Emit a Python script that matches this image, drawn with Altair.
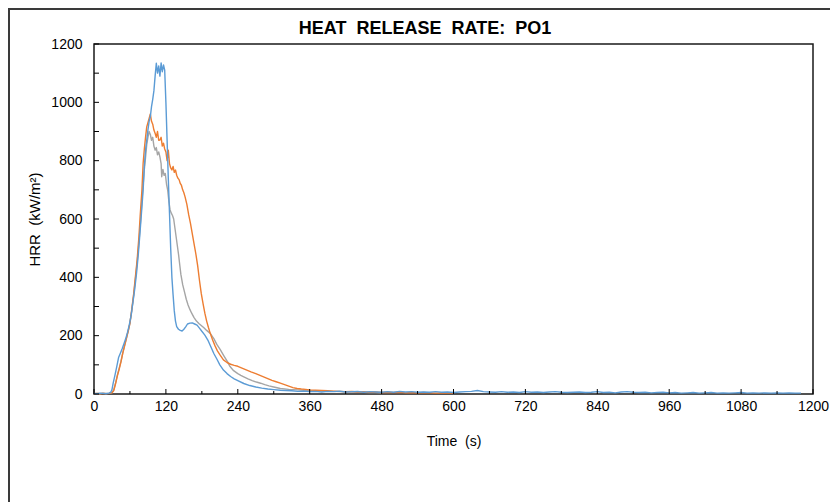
import altair as alt
import pandas as pd

# ---------------- data ----------------
series_names = ["Grey", "Orange", "Blue"]
series_colors = ["#A5A5A5", "#ED7D31", "#5B9BD5"]

blue_t = [0, 5, 10, 15, 20, 25, 28, 30, 32, 35,
          38, 41, 44, 47, 50, 53, 56, 59, 62, 65,
          68, 71, 74, 77, 80, 82, 84, 86, 88, 90,
          92, 94, 96, 98, 100, 102, 104, 106, 108, 110,
          112, 114, 116, 118, 120, 122, 124, 126, 128, 130,
          132, 134, 136, 138, 141, 144, 147, 150, 153, 156,
          160, 164, 168, 172, 176, 180, 185, 190, 195, 200,
          205, 210, 216, 222, 228, 234, 240, 250, 260, 270,
          280, 290, 300, 311, 320,
          330, 340, 350, 360, 370, 380, 390, 400, 410, 420,
          430, 440, 450, 460, 470, 480, 490, 500, 510, 520,
          530, 540, 550, 560, 570, 580, 590, 600, 610, 620,
          630, 640, 650, 660, 670, 680, 690, 700, 710, 720,
          730, 740, 750, 760, 770, 780, 790, 800, 810, 820,
          830, 840, 850, 860, 870, 880, 890, 900, 910, 920,
          930, 940, 950, 960, 970, 980, 990, 1000, 1010, 1020,
          1030, 1040, 1050, 1060, 1070, 1080, 1090, 1100, 1110, 1120,
          1130, 1140, 1150, 1160, 1170, 1180]
blue_v = [2, 1, 3, 2, 1, 3, 6, 15, 37, 65,
          94, 125, 140, 155, 172, 190, 212, 238, 270, 315,
          360, 414, 480, 560, 642, 700, 780, 836, 870, 905,
          935, 951, 985, 1010, 1040, 1090, 1134, 1100, 1125, 1090,
          1135, 1105, 1128, 1110, 1000, 871, 740, 620, 500, 400,
          340, 285, 250, 231, 222, 218, 216, 222, 230, 240,
          243, 244, 240, 236, 226, 215, 202, 185, 162, 139,
          120, 100, 82, 70, 60, 52, 46, 36, 29, 24,
          20, 17, 15, 13, 12,
          11, 9, 10, 8, 9, 7, 9, 8, 10, 7,
          8, 9, 6, 8, 7, 6, 8, 6, 9, 7,
          8, 6, 7, 6, 8, 6, 7, 5, 7, 8,
          9, 12, 8, 7, 6, 8, 6, 7, 5, 8,
          6, 7, 5, 7, 8, 6, 5, 6, 7, 5,
          6, 8, 5, 6, 4, 7, 8, 6, 5, 6,
          4, 5, 6, 4, 5, 3, 4, 5, 3, 4,
          5, 3, 4, 3, 4, 5, 3, 4, 3, 4,
          3, 4, 3, 4, 3, 3]

orange_t = [0, 5, 10, 15, 20, 25, 30, 33, 36, 39,
            42, 45, 48, 51, 54, 57, 60, 63, 66, 69,
            72, 75, 77, 80, 82, 84, 86, 88, 90, 92,
            94, 96, 98, 100, 102, 104, 106, 108, 110, 112,
            114, 116, 118, 120, 122, 124, 126, 128, 130, 132,
            134, 136, 138, 140, 142, 144, 146, 148, 150, 152,
            155, 158, 161, 164, 167, 170, 173, 176, 179, 182,
            185, 188, 191, 194, 198, 202, 206, 210, 216, 222,
            228, 234, 240, 248, 255, 262, 270, 277, 283, 290,
            297, 304, 311, 318, 325, 332, 339, 346, 353, 360,
            370, 380, 390, 400, 410, 420, 430, 440, 450, 460,
            470, 480, 490, 500, 510, 520, 530, 540, 550, 560,
            570, 580, 590, 600]
orange_v = [1, 2, 1, 2, 1, 2, 4, 12, 35, 62,
            85, 110, 140, 165, 190, 215, 243, 290, 340, 400,
            460, 540, 608, 700, 791, 840, 880, 916, 930, 945,
            960, 935, 925, 905, 894, 880, 900, 870, 871, 880,
            850, 860, 840, 830, 800, 836, 790, 775, 768, 780,
            760, 768, 750, 740, 735, 722, 715, 700, 690, 676,
            650, 615, 585, 550, 515, 480, 440, 390, 345, 310,
            277, 250, 228, 208, 185, 165, 148, 135, 117, 108,
            102, 98, 95, 88, 82, 76, 70, 64, 59, 53,
            47, 42, 37, 32, 27, 22, 19, 17, 16, 14,
            13, 12, 11, 10, 9, 8, 9, 7, 8, 6,
            7, 5, 6, 5, 6, 4, 5, 4, 5, 4,
            3, 4, 3, 3]

grey_t = [0, 5, 10, 15, 20, 25, 30, 33, 36, 39,
          42, 45, 48, 51, 54, 57, 60, 63, 66, 69,
          72, 75, 78, 81, 84, 86, 88, 90, 92, 94,
          96, 98, 100, 102, 104, 106, 108, 110, 112, 113,
          115, 117, 119, 121, 123, 125, 127, 129, 131, 133,
          135, 137, 139, 141, 143, 145, 148, 151, 154, 157,
          160, 163, 167, 171, 175, 179, 183, 188, 194, 200,
          205, 211, 217, 223, 227, 233, 240, 245, 250, 257,
          264, 271, 278, 285, 292, 300, 311, 325, 340, 355,
          370, 380, 390, 400, 410, 420, 430, 440, 450, 460,
          470, 480]
grey_v = [1, 2, 1, 3, 2, 2, 5, 14, 38, 65,
          88, 112, 140, 165, 190, 215, 243, 285, 335, 392,
          450, 520, 600, 690, 770, 810, 855, 880, 900, 890,
          870, 880, 850, 836, 845, 820, 830, 813, 790, 745,
          770, 750, 756, 720, 699, 660, 631, 620, 612, 600,
          570, 540, 510, 480, 445, 410, 375, 350, 325, 305,
          290, 277, 262, 250, 242, 235, 228, 218, 208, 190,
          170, 151, 130, 110, 94, 80, 70, 64, 59, 52,
          46, 41, 37, 32, 28, 24, 19, 16, 14, 12,
          11, 10, 9, 9, 8, 7, 7, 6, 6, 5,
          5, 4]

x_tick_labels = [0, 120, 240, 360, 480, 600, 720, 840, 960, 1080, 1200]
x_minor_ticks = [60, 180, 300, 420, 540, 660, 780, 900, 1020, 1140]
y_tick_labels = [0, 200, 400, 600, 800, 1000, 1200]
y_minor_ticks = [100, 300, 500, 700, 900, 1100]

title_text = "HEAT\u00a0\u00a0RELEASE\u00a0\u00a0RATE:\u00a0\u00a0PO1"
x_title = "Time\u00a0\u00a0(s)"
y_title = "HRR\u00a0\u00a0(kW/m\u00b2)"

# ---------------- build tables ----------------
frames = []
for name, ts, vs in [("Grey", grey_t, grey_v), ("Orange", orange_t, orange_v), ("Blue", blue_t, blue_v)]:
    frames.append(pd.DataFrame({"t": ts, "v": vs, "series": name}))
df = pd.concat(frames, ignore_index=True)

W, H = 719, 350
x_scale = alt.Scale(domain=[0, 1200], nice=False, zero=False)
y_scale = alt.Scale(domain=[0, 1200], nice=False)
color_scale = alt.Scale(domain=series_names, range=series_colors)

x_axis = alt.Axis(values=x_tick_labels, title=x_title, labelPadding=5, titlePadding=21,
                  labelFlush=False, format="d")
y_axis = alt.Axis(values=y_tick_labels, title=y_title, labelPadding=12, titlePadding=8,
                  titleFontSize=15, format="d")

X = alt.X("t:Q", scale=x_scale, axis=x_axis)
Y = alt.Y("v:Q", scale=y_scale, axis=y_axis)

def series_layer(name):
    return alt.Chart(df).transform_filter(alt.datum.series == name).mark_line(
        strokeWidth=1.4, strokeJoin="round"
    ).encode(
        x=X, y=Y,
        color=alt.Color("series:N", scale=color_scale, legend=None),
    )

lines = [series_layer("Grey"), series_layer("Orange"), series_layer("Blue")]

xt_major = alt.Chart(pd.DataFrame({"t": x_tick_labels})).mark_rule(color="black", strokeWidth=1).encode(
    x=X, y=alt.value(H), y2=alt.value(H - 5))
xt_minor = alt.Chart(pd.DataFrame({"t": x_minor_ticks})).mark_rule(color="black", strokeWidth=1).encode(
    x=X, y=alt.value(H), y2=alt.value(H - 3))
yt = alt.Chart(pd.DataFrame({"v": y_tick_labels + y_minor_ticks})).mark_rule(color="black", strokeWidth=1).encode(
    y=Y, x=alt.value(0), x2=alt.value(5))

one = pd.DataFrame({"a": [0]})
# outer chart frame (top and left edges)
frame_top = alt.Chart(one).mark_rule(color="#3a3a3a", strokeWidth=2).encode(
    x=alt.value(-86), x2=alt.value(W + 17), y=alt.value(-35))
frame_left = alt.Chart(one).mark_rule(color="#3a3a3a", strokeWidth=2).encode(
    x=alt.value(-85), y=alt.value(-36), y2=alt.value(H + 108))

# chart title (centred on the outer chart area, slightly left of the plot centre)
title_mark = alt.Chart(one).mark_text(
    text=title_text, font="Liberation Sans", fontSize=18, fontWeight="bold",
    color="black", align="center", baseline="alphabetic",
).encode(x=alt.value(331), y=alt.value(-10))

chart = alt.layer(
    *lines, xt_major, xt_minor, yt, frame_top, frame_left, title_mark
).properties(
    width=W, height=H,
    autosize=alt.AutoSizeParams(type="none"),
    padding={"left": 86, "top": 36, "right": 17, "bottom": 108},
    background="white",
).configure_view(
    stroke="#1a1a1a", strokeWidth=1.5
).configure_axis(
    grid=False, domain=False, ticks=False,
    labelFont="Liberation Sans", titleFont="Liberation Sans",
    labelColor="black", titleColor="black",
    labelFontSize=14, titleFontSize=14, titleFontWeight="normal",
)

chart.save("out.html", embed_options={"renderer": "svg", "actions": False})
